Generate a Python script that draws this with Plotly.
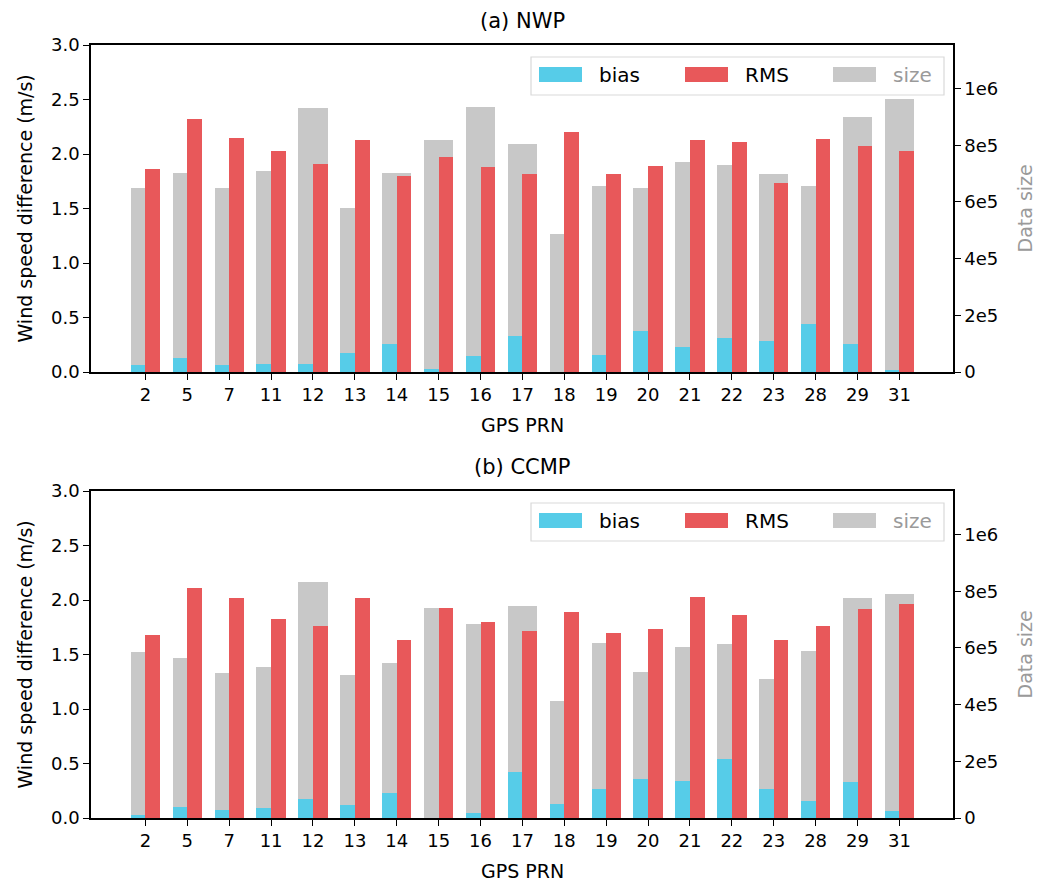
import plotly.graph_objects as go

# ---------------- data ----------------
prn = ["2", "5", "7", "11", "12", "13", "14", "15", "16", "17",
       "18", "19", "20", "21", "22", "23", "28", "29", "31"]

nwp_bias = [0.06, 0.13, 0.06, 0.07, 0.07, 0.17, 0.26, 0.03, 0.15, 0.33,
            0.00, 0.16, 0.38, 0.23, 0.31, 0.28, 0.44, 0.26, 0.02]
nwp_rms = [1.86, 2.32, 2.15, 2.03, 1.91, 2.13, 1.80, 1.97, 1.88, 1.82,
           2.20, 1.82, 1.89, 2.13, 2.11, 1.73, 2.14, 2.07, 2.03]
nwp_size = [0.649e6, 0.703e6, 0.649e6, 0.709e6, 0.931e6, 0.580e6, 0.703e6, 0.819e6, 0.936e6, 0.806e6,
            0.488e6, 0.656e6, 0.650e6, 0.742e6, 0.732e6, 0.699e6, 0.656e6, 0.899e6, 0.963e6]

ccmp_bias = [0.03, 0.10, 0.07, 0.09, 0.17, 0.12, 0.23, 0.00, 0.05, 0.42,
             0.13, 0.27, 0.36, 0.34, 0.54, 0.27, 0.16, 0.33, 0.06]
ccmp_rms = [1.68, 2.11, 2.02, 1.83, 1.76, 2.02, 1.63, 1.93, 1.80, 1.72,
            1.89, 1.70, 1.73, 2.03, 1.86, 1.63, 1.76, 1.92, 1.96]
ccmp_size = [0.586e6, 0.564e6, 0.511e6, 0.532e6, 0.834e6, 0.505e6, 0.548e6, 0.742e6, 0.684e6, 0.747e6,
             0.413e6, 0.619e6, 0.515e6, 0.602e6, 0.613e6, 0.489e6, 0.590e6, 0.775e6, 0.790e6]

size_ticks = [0, 2e5, 4e5, 6e5, 8e5, 1e6]
size_tick_text = ["0", "2e5", "4e5", "6e5", "8e5", "1e6"]
left_ticks = [0.0, 0.5, 1.0, 1.5, 2.0, 2.5, 3.0]

panels = [("(a) NWP", nwp_bias, nwp_rms, nwp_size),
          ("(b) CCMP", ccmp_bias, ccmp_rms, ccmp_size)]

# ---------------- style ----------------
C_BIAS = "#56CCE8"
C_RMS = "#E8585A"
C_SIZE = "#C8C8C8"
FONT = "DejaVu Sans"
FS_TICK = 18
FS_LAB = 19
FS_TITLE = 21
FS_LEG = 20

W, H = 1037, 881
L, R, T, B = 91, 953, 45, 818   # plot-area pixel box


def px(x):
    return (x - L) / (R - L)


def py(y):
    return (B - y) / (B - T)


fig = go.Figure()

panel_px = [(45, 372), (491, 818)]

layout_axes = {}
annotations = []
shapes = []
for i, (title, bias, rms, size) in enumerate(panels):
    xa = "x" if i == 0 else "x2"
    ya_size = "y" if i == 0 else "y3"
    ya_left = "y2" if i == 0 else "y4"

    fig.add_trace(go.Bar(x=prn, y=size, name="size", xaxis=xa, yaxis=ya_size,
                         marker=dict(color=C_SIZE, line=dict(width=0)),
                         width=0.7, offset=-0.35, showlegend=False))
    fig.add_trace(go.Bar(x=prn, y=bias, name="bias", xaxis=xa, yaxis=ya_left,
                         marker=dict(color=C_BIAS, line=dict(width=0)),
                         width=0.35, offset=-0.35, showlegend=False))
    fig.add_trace(go.Bar(x=prn, y=rms, name="RMS", xaxis=xa, yaxis=ya_left,
                         marker=dict(color=C_RMS, line=dict(width=0)),
                         width=0.35, offset=0.0, showlegend=False))

    top, bot = panel_px[i]
    dom = [py(bot), py(top)]
    xkey = "xaxis" if i == 0 else "xaxis2"
    ysk = "yaxis" if i == 0 else "yaxis3"
    ylk = "yaxis2" if i == 0 else "yaxis4"

    layout_axes[xkey] = dict(
        domain=[0, 1], anchor=ya_size, type="category",
        range=[-1.3, 19.28], showgrid=False, zeroline=False,
        showline=True, linecolor="black", linewidth=1.5, mirror=True,
        ticks="outside", ticklen=6, tickwidth=1.3, tickcolor="black",
        tickfont=dict(family=FONT, size=FS_TICK, color="black"),
    )
    layout_axes[ysk] = dict(
        domain=dom, anchor=xa, side="right", range=[0, 1.154e6],
        tickvals=size_ticks, ticktext=size_tick_text,
        showgrid=False, zeroline=False,
        showline=True, linecolor="black", linewidth=1.5,
        ticks="outside", ticklen=6, tickwidth=1.3, tickcolor="black",
        tickfont=dict(family=FONT, size=FS_TICK, color="black"),
    )
    layout_axes[ylk] = dict(
        overlaying=ya_size, anchor=xa, side="left", range=[0, 3.0],
        tickvals=left_ticks, tickformat=".1f",
        showgrid=False, zeroline=False,
        showline=True, linecolor="black", linewidth=1.5,
        ticks="outside", ticklen=6, tickwidth=1.3, tickcolor="black",
        tickfont=dict(family=FONT, size=FS_TICK, color="black"),
    )

    # panel title
    annotations.append(dict(text=title, x=0.5, y=py(top - 24), xref="paper", yref="paper",
                            xanchor="center", yanchor="middle", showarrow=False,
                            font=dict(family=FONT, size=FS_TITLE, color="black")))
    # axis titles
    annotations.append(dict(text="GPS PRN", x=0.5, y=py(bot + 53), xref="paper", yref="paper",
                            xanchor="center", yanchor="middle", showarrow=False,
                            font=dict(family=FONT, size=FS_LAB, color="black")))
    annotations.append(dict(text="Wind speed difference (m/s)", x=px(24), y=py((top + bot) / 2),
                            xref="paper", yref="paper", textangle=-90,
                            xanchor="center", yanchor="middle", showarrow=False,
                            font=dict(family=FONT, size=FS_LAB, color="black")))
    annotations.append(dict(text="Data size", x=px(1024), y=py((top + bot) / 2),
                            xref="paper", yref="paper", textangle=-90,
                            xanchor="center", yanchor="middle", showarrow=False,
                            font=dict(family=FONT, size=FS_LAB, color="#9a9a9a")))

    # legend box
    dy = top - 45
    shapes.append(dict(type="rect", xref="paper", yref="paper",
                       x0=px(531), x1=px(944), y0=py(95 + dy), y1=py(57 + dy),
                       line=dict(color="#d9d9d9", width=1.2), fillcolor="rgba(255,255,255,0.8)",
                       layer="above"))
    items = [(C_BIAS, "bias", "black", 539), (C_RMS, "RMS", "black", 685), (C_SIZE, "size", "#9a9a9a", 833)]
    for col, lab, tcol, sx in items:
        shapes.append(dict(type="rect", xref="paper", yref="paper",
                           x0=px(sx), x1=px(sx + 43), y0=py(82 + dy), y1=py(67 + dy),
                           line=dict(width=0), fillcolor=col, layer="above"))
        annotations.append(dict(text=lab, x=px(sx + 58), y=py(75 + dy), xref="paper", yref="paper",
                                xanchor="left", yanchor="middle", showarrow=False,
                                font=dict(family=FONT, size=FS_LEG, color=tcol)))

fig.update_layout(**layout_axes)

fig.update_layout(
    width=W, height=H,
    margin=dict(l=L, r=W - R, t=T, b=H - B, autoexpand=False),
    paper_bgcolor="white", plot_bgcolor="white",
    barmode="overlay", bargap=0,
    showlegend=False,
    annotations=annotations, shapes=shapes,
    font=dict(family=FONT, size=FS_TICK, color="black"),
)

fig.write_html("out.html")
